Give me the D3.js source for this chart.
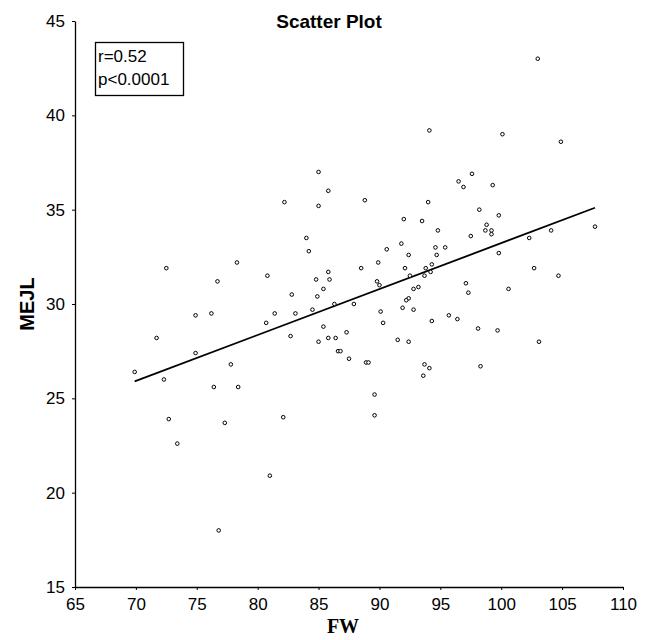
<!DOCTYPE html>
<html>
<head>
<meta charset="utf-8">
<script src="https://cdn.jsdelivr.net/npm/d3@7"></script>
<style>
  body { margin: 0; background: #fff; }
  svg text { font-family: "Liberation Sans", Arial, sans-serif; }
</style>
</head>
<body>
<script>
// values
const fw = [85.0, 85.8, 82.2, 85.0, 103.0, 94.1, 100.1, 104.9, 97.6, 96.5,
    96.9, 99.3, 88.8, 94.0, 98.2, 84.0, 84.2, 78.3, 72.5, 85.8,
    80.8, 84.8, 85.9, 76.7, 85.4, 82.8, 84.9, 86.3, 87.9, 88.5,
    84.5, 81.4, 83.1, 74.9, 76.2, 80.7, 85.4, 87.3, 82.7, 85.8,
    86.4, 71.7, 85.0, 86.6, 86.8, 74.9, 87.5, 77.8, 69.9, 72.3,
    76.4, 78.4, 99.8, 92.0, 93.5, 98.8, 98.7, 99.2, 99.2, 107.7,
    104.1, 94.8, 97.5, 102.3, 91.8, 94.6, 95.4, 90.6, 92.4, 94.7,
    99.8, 89.9, 92.1, 93.8, 94.3, 102.7, 94.2, 104.7, 92.5, 93.7,
    89.8, 90.0, 97.1, 92.8, 93.2, 100.6, 97.3, 92.4, 92.2, 91.9,
    92.8, 90.1, 95.7, 96.4, 94.3, 90.3, 98.1, 99.7, 103.1, 91.5,
    92.4, 88.9, 89.1, 93.7, 94.1, 98.3, 93.6, 89.6, 89.6, 72.7,
    77.3, 82.1, 73.4, 81.0, 76.8];
const mejl = [37.0, 36.0, 35.4, 35.2, 43.0, 39.2, 39.0, 38.6, 36.9, 36.5,
    36.2, 36.3, 35.5, 35.4, 35.0, 33.5, 32.8, 32.2, 31.9, 31.7,
    31.5, 31.3, 31.3, 31.2, 30.8, 30.5, 30.4, 30.0, 30.0, 31.9,
    29.7, 29.5, 29.5, 29.4, 29.5, 29.0, 28.8, 28.5, 28.3, 28.2,
    28.2, 28.2, 28.0, 27.5, 27.5, 27.4, 27.1, 26.8, 26.4, 26.0,
    25.6, 25.6, 34.7, 34.5, 34.4, 34.2, 33.9, 33.9, 33.7, 34.1,
    33.9, 33.9, 33.6, 33.5, 33.2, 33.0, 33.0, 32.9, 32.6, 32.6,
    32.7, 32.2, 31.9, 31.9, 32.1, 31.9, 31.7, 31.5, 31.5, 31.5,
    31.2, 31.0, 31.1, 30.8, 30.9, 30.8, 30.6, 30.3, 30.2, 29.8,
    29.7, 29.6, 29.4, 29.2, 29.1, 29.0, 28.7, 28.6, 28.0, 28.1,
    28.0, 26.9, 26.9, 26.8, 26.6, 26.7, 26.2, 25.2, 24.1, 23.9,
    23.7, 24.0, 22.6, 20.9, 18.0];

// fitted line ends
const fitX = [69.9, 107.7];
const fitY = [25.9, 35.1];

const xTicks = [65, 70, 75, 80, 85, 90, 95, 100, 105, 110];
const yTicks = [15, 20, 25, 30, 35, 40, 45];
const statLines = ["r=0.52", "p<0.0001"];

const width = 648, height = 640;
const margin = { top: 21, right: 25, bottom: 53, left: 75 };

const svg = d3.select("body").append("svg")
    .attr("width", width)
    .attr("height", height);

const x = d3.scaleLinear().domain([65, 110]).range([margin.left, width - margin.right]);
const y = d3.scaleLinear().domain([15, 45]).range([height - margin.bottom, margin.top]);

// axes
const xAxis = svg.append("g")
    .attr("transform", `translate(0,${height - margin.bottom})`)
    .call(d3.axisBottom(x).tickValues(xTicks).tickSize(3).tickSizeOuter(0).tickPadding(8));
const yAxis = svg.append("g")
    .attr("transform", `translate(${margin.left},0)`)
    .call(d3.axisLeft(y).tickValues(yTicks).tickSize(3).tickSizeOuter(0).tickPadding(7));

[xAxis, yAxis].forEach(g => {
    g.selectAll("text").attr("font-size", 17).attr("fill", "#000")
        .attr("font-family", "Liberation Sans, Arial, sans-serif");
    g.select(".domain").attr("stroke", "#000").attr("stroke-width", 1.3);
    g.selectAll(".tick line").attr("stroke", "#000");
});

// regression line
svg.append("line")
    .attr("x1", x(fitX[0])).attr("y1", y(fitY[0]))
    .attr("x2", x(fitX[1])).attr("y2", y(fitY[1]))
    .attr("stroke", "#000")
    .attr("stroke-width", 1.8);

// points
svg.append("g").selectAll("circle")
    .data(d3.zip(fw, mejl))
    .enter()
    .append("circle")
    .attr("cx", d => x(d[0]))
    .attr("cy", d => y(d[1]))
    .attr("r", 1.8)
    .attr("fill", "#fff")
    .attr("stroke", "#000")
    .attr("stroke-width", 1);

// title
svg.append("text")
    .attr("x", 329)
    .attr("y", 28)
    .attr("text-anchor", "middle")
    .attr("font-size", 19)
    .attr("font-weight", "bold")
    .text("Scatter Plot");

// stats box
svg.append("rect")
    .attr("x", 95.5).attr("y", 42.5)
    .attr("width", 88).attr("height", 53)
    .attr("fill", "#fff")
    .attr("stroke", "#000")
    .attr("stroke-width", 1.3);
svg.append("g").selectAll("text")
    .data(statLines)
    .enter()
    .append("text")
    .attr("x", 98)
    .attr("y", (d, i) => 62 + i * 23)
    .attr("font-size", 17)
    .text(d => d);

// axis titles
svg.append("text")
    .attr("x", 343)
    .attr("y", 633)
    .attr("text-anchor", "middle")
    .style("font-family", "Liberation Serif, Times New Roman, serif")
    .attr("font-size", 20)
    .attr("font-weight", "bold")
    .text("FW");

svg.append("text")
    .attr("transform", `translate(34,${y(30)}) rotate(-90)`)
    .attr("text-anchor", "middle")
    .attr("font-size", 20)
    .attr("font-weight", "bold")
    .text("MEJL");
</script>
</body>
</html>
